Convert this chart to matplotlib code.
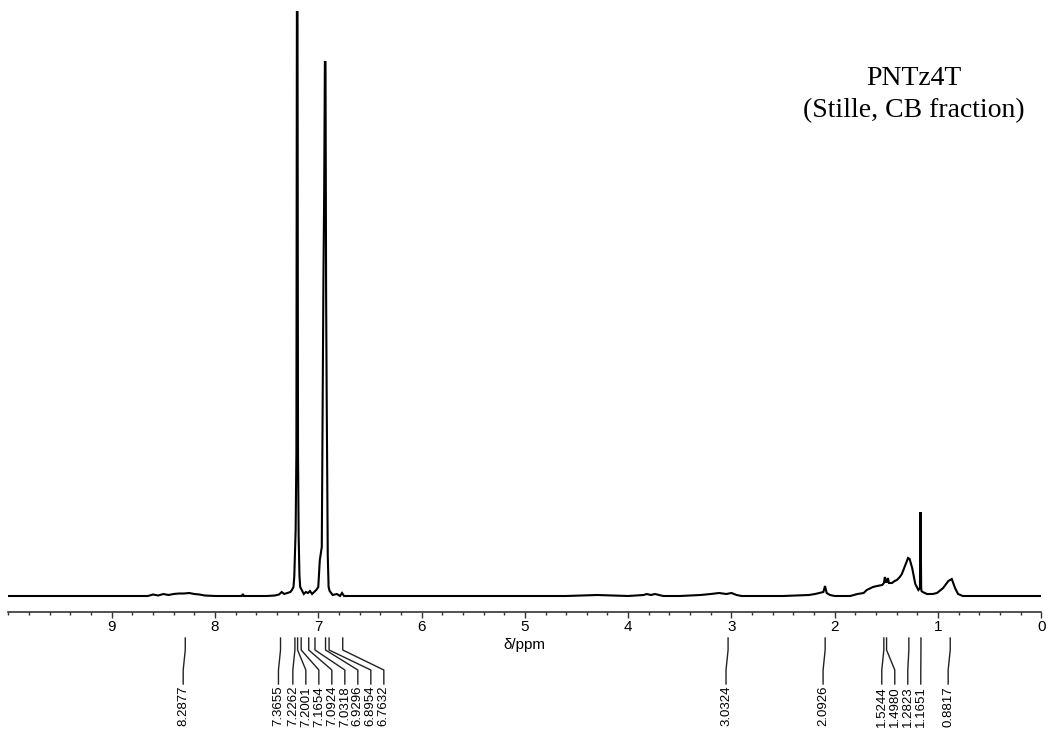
import matplotlib
matplotlib.use("Agg")
import matplotlib.pyplot as plt
from matplotlib.transforms import blended_transform_factory
from matplotlib.ticker import MultipleLocator


# spectrum (chemical shift in ppm, intensity above baseline)
ppm = [10.0, 9.2, 8.65, 8.6, 8.55, 8.5, 8.45, 8.4, 8.35, 8.3, 8.25, 8.2, 8.15, 8.1,
       8.0, 7.74, 7.73, 7.72, 7.5, 7.42, 7.38, 7.354, 7.33, 7.30, 7.27, 7.255,
       7.24, 7.232, 7.226, 7.219, 7.212, 7.207, 7.201, 7.196, 7.19, 7.182,
       7.175, 7.16, 7.14, 7.12, 7.10, 7.08, 7.06, 7.04, 7.02, 7.0, 6.985,
       6.966, 6.95, 6.943, 6.936, 6.930, 6.924, 6.918, 6.908, 6.90, 6.89,
       6.86, 6.82, 6.79, 6.77, 6.75, 6.72, 6.3, 5.8, 5.0, 4.6, 4.3, 4.0,
       3.85, 3.82, 3.78, 3.74, 3.70, 3.66, 3.5, 3.3, 3.2, 3.12, 3.05, 3.0,
       2.95, 2.9, 2.5, 2.25, 2.19, 2.15, 2.11, 2.094, 2.078, 2.045, 2.0, 1.85,
       1.78, 1.72, 1.69, 1.63, 1.59, 1.54, 1.524, 1.514, 1.505, 1.495, 1.485,
       1.475, 1.446, 1.42, 1.398, 1.37, 1.35, 1.32, 1.29, 1.275, 1.25, 1.22,
       1.19, 1.175, 1.169, 1.166, 1.163, 1.16, 1.148, 1.107, 1.05, 1.01, 0.95,
       0.90, 0.867, 0.835, 0.806, 0.76, 0.5, 0.0]
intensity = [0, 0, 0, 1.5, 0.5, 2, 1, 2, 2.5, 2.5, 3, 2, 1.5, 0.5,
             0, 0, 2, 0, 0, 0.5, 1.5, 4, 2, 3, 4, 6,
             9, 20, 43, 66, 143, 584, 584, 143, 60, 20,
             9, 6, 2, 4, 3, 5, 2, 4, 6, 9, 36,
             49, 318, 400, 534, 534, 300, 191, 40, 9, 5,
             1, 2, 0, 3, 0, 0, 0, 0, 0, 0, 1, 0,
             1, 2, 1, 2, 1, 0, 0, 1, 2, 3, 2, 3,
             1, 0, 0, 1, 2, 3, 4, 10, 3, 1, 0, 0,
             2, 3, 6, 9, 10, 11, 13, 19, 14, 14, 18,
             13, 13, 15, 16, 19, 22, 30, 38, 37, 28, 12,
             6, 8, 84, 48, 8, 5, 4, 2, 2, 3, 8,
             15, 17, 8, 2, 0, 0, 0]

peak_labels = [8.2877, 7.3655, 7.2262, 7.2001, 7.1654, 7.0924, 7.0318, 6.9296,
               6.8954, 6.7632, 3.0324, 2.0926, 1.5244, 1.4980, 1.2823, 1.1651,
               0.8817]

ticks = [9, 8, 7, 6, 5, 4, 3, 2, 1, 0]
title = "PNTz4T\n(Stille, CB fraction)"


W, H = 1048, 731
fig = plt.figure(figsize=(W / 100, H / 100), dpi=100)
ax = fig.add_axes([8.4 / W, (H - 612) / H, 1032.9 / W, 612 / H])

ax.plot(ppm, intensity, color='black', lw=1.5, solid_joinstyle='miter')
ax.set_xlim(10, 0)
ax.set_ylim(-16, 596)

for s in ['top', 'left', 'right']:
    ax.spines[s].set_visible(False)
ax.spines['bottom'].set_linewidth(1.2)
ax.spines['bottom'].set_color('#333333')
ax.yaxis.set_visible(False)
ax.set_xticks(ticks)
ax.xaxis.set_minor_locator(MultipleLocator(0.2))
ax.tick_params(axis='x', which='major', direction='out', length=4, width=1,
               pad=2, labelsize=11, color='#333333')
ax.tick_params(axis='x', which='minor', direction='out', length=2.2, width=1,
               color='#333333')
for lab in ax.get_xticklabels():
    lab.set_fontfamily('Liberation Sans')
ax.set_xlabel('δ/ppm', fontsize=11, family='Liberation Sans', labelpad=3)

fig.text(914 / W, 1 - 94.5 / H, title, ha='center', va='center',
         fontsize=20, family='Liberation Serif', linespacing=1.4)

# peak pick labels with leader lines below the axis
trans = blended_transform_factory(ax.transData, fig.transFigure)
gap = 13 / 103.3
y0, y1, y2, y3 = [1 - v / H for v in (638, 650, 670, 684)]
prev = None
for p in peak_labels:
    lx = p + 0.02
    if prev is not None and prev - lx < gap:
        lx = prev - gap
    prev = lx
    ax.plot([p, p, lx, lx], [y0, y1, y2, y3], color='#222222', lw=1,
            transform=trans, clip_on=False)
    ax.text(lx, 1 - 686 / H, f"{p:.4f}", transform=trans, rotation=90,
            ha='center', va='top', fontsize=9.5, family='Liberation Sans')

fig.savefig('out.png', dpi=100)
